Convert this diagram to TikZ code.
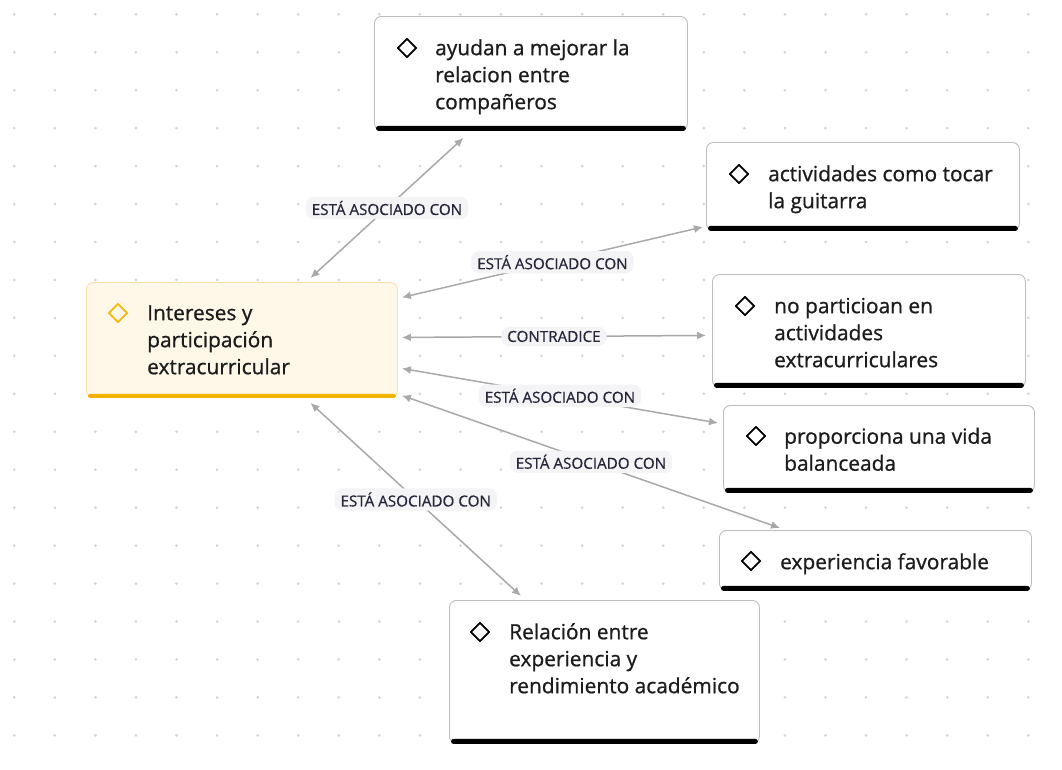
\documentclass[tikz,border=0pt]{standalone}
\usepackage{fontspec}
\setmainfont{Open Sans}
\newfontfamily\boxfont[FakeBold=0.8]{Open Sans}
\newfontfamily\lblfont[FakeBold=0.6]{Open Sans}
\usetikzlibrary{arrows.meta,shapes.geometric}
\definecolor{edgec}{HTML}{A9A9A9}
\definecolor{boxline}{HTML}{BDBDBD}
\definecolor{txtc}{HTML}{1C1C1C}
\definecolor{lblfill}{HTML}{F4F4F7}
\definecolor{lbltext}{HTML}{26263A}
\definecolor{dotc}{HTML}{D6D6D6}
\definecolor{ctrfill}{HTML}{FFF8E9}
\definecolor{ctrline}{HTML}{FBE1A6}
\definecolor{ctrbar}{HTML}{F2B300}
\definecolor{ctrdmd}{HTML}{F5B90F}
\begin{document}
\begin{tikzpicture}[x=1pt,y=-1pt,
  box/.style={rectangle, rounded corners=7pt, draw=boxline, line width=0.9pt, fill=white, inner sep=0pt, anchor=north west},
  ctrbox/.style={box, draw=ctrline, fill=ctrfill},
  txt/.style={anchor=north west, inner sep=0pt, align=left, font=\boxfont\fontsize{20.9}{27}\selectfont, text=txtc},
  dmd/.style={diamond, draw=black, line width=1.8pt, inner sep=0pt, minimum width=19pt, minimum height=19pt, line join=round},
  lbl/.style={fill=lblfill, rounded corners=8pt, inner xsep=6pt, inner ysep=4pt, font=\lblfont\fontsize{15.2}{16}\selectfont, text=lbltext},
  conn/.style={draw=edgec, line width=1.5pt, {Latex[length=9pt,width=8pt]}-{Latex[length=9pt,width=8pt]}}
]
\useasboundingbox (0,0) rectangle (1062,769);
\fill[white] (0,0) rectangle (1062,769);
\foreach \i in {0,...,25}{\foreach \j in {0,...,20}{\fill[dotc] (14.3+40.56*\i,14.3+37.95*\j) circle (1.5);}}

% boxes
\node[ctrbox, minimum width=311pt, minimum height=115pt] (ctr) at (86,282) {};
\node[box, minimum width=313pt, minimum height=114pt] (A) at (374,16) {};
\node[box, minimum width=313pt, minimum height=88pt] (B) at (706,142) {};
\node[box, minimum width=313pt, minimum height=113pt] (C) at (712,274) {};
\node[box, minimum width=311pt, minimum height=87pt] (D) at (723,405) {};
\node[box, minimum width=312pt, minimum height=60pt] (E) at (719,530) {};
\node[box, minimum width=310pt, minimum height=143pt] (F) at (449,600) {};

% bottom bars
\fill[ctrbar, rounded corners=2pt] ([xshift=2pt]ctr.south west) rectangle ([xshift=-2pt,yshift=4pt]ctr.south east);
\foreach \n in {A,B,C,D,E,F}{\fill[black, rounded corners=2.5pt] ([xshift=2pt]\n.south west) rectangle ([xshift=-2pt,yshift=5pt]\n.south east);}

% diamonds
\node[dmd, draw=ctrdmd] (ctrd) at ([xshift=32pt,yshift=-31pt]ctr.north west) {};
\node[dmd] (Ad) at ([xshift=33pt,yshift=-32pt]A.north west) {};
\node[dmd] (Bd) at ([xshift=33pt,yshift=-32pt]B.north west) {};
\node[dmd] (Cd) at ([xshift=33pt,yshift=-32pt]C.north west) {};
\node[dmd] (Dd) at ([xshift=33pt,yshift=-31pt]D.north west) {};
\node[dmd] (Ed) at ([xshift=32pt,yshift=-31pt]E.north west) {};
\node[dmd] (Fd) at ([xshift=31pt,yshift=-32pt]F.north west) {};

% texts
\node[txt] (ctrt) at ([xshift=61pt,yshift=-18pt]ctr.north west) {\rule{0pt}{20pt}Intereses y\\participación\\extracurricular};
\node[txt] (At) at ([xshift=61pt,yshift=-19pt]A.north west) {\rule{0pt}{20pt}ayudan a mejorar la\\relacion entre\\compañeros};
\node[txt] (Bt) at ([xshift=62pt,yshift=-19pt]B.north west) {\rule{0pt}{20pt}actividades como tocar\\la guitarra};
\node[txt] (Ct) at ([xshift=62pt,yshift=-19pt]C.north west) {\rule{0pt}{20pt}no particioan en\\actividades\\extracurriculares};
\node[txt] (Dt) at ([xshift=61pt,yshift=-18.5pt]D.north west) {\rule{0pt}{20pt}proporciona una vida\\balanceada};
\node[txt] (Et) at ([xshift=61pt,yshift=-19pt]E.north west) {\rule{0pt}{20pt}experiencia favorable};
\node[txt] (Ft) at ([xshift=60pt,yshift=-19pt]F.north west) {\rule{0pt}{20pt}Relación entre\\experiencia y\\rendimiento académico};

% connectors
\draw[conn] ([xshift=68.5pt,yshift=4pt]ctr.north) -- node[lbl] {ESTÁ ASOCIADO CON} ([xshift=-67.5pt,yshift=-7pt]A.south);
\draw[conn] ([xshift=4pt,yshift=42.5pt]ctr.east) -- node[lbl] {ESTÁ ASOCIADO CON} ([xshift=-3pt,yshift=4pt]B.south west);
\draw[conn] ([xshift=4pt,yshift=2.5pt]ctr.east) -- node[lbl] {CONTRADICE} ([xshift=-6pt,yshift=-4.5pt]C.west);
\draw[conn] ([xshift=4pt,yshift=-28.5pt]ctr.east) -- node[lbl] {ESTÁ ASOCIADO CON} ([xshift=-5pt,yshift=-18pt]D.north west);
\draw[conn] ([xshift=4pt,yshift=-55.5pt]ctr.east) -- node[lbl] {ESTÁ ASOCIADO CON} ([xshift=61pt,yshift=2pt]E.north west);
\draw[conn] ([xshift=68.5pt,yshift=-5pt]ctr.south) -- node[lbl] {ESTÁ ASOCIADO CON} ([xshift=72pt,yshift=4pt]F.north west);
\end{tikzpicture}
\end{document}
